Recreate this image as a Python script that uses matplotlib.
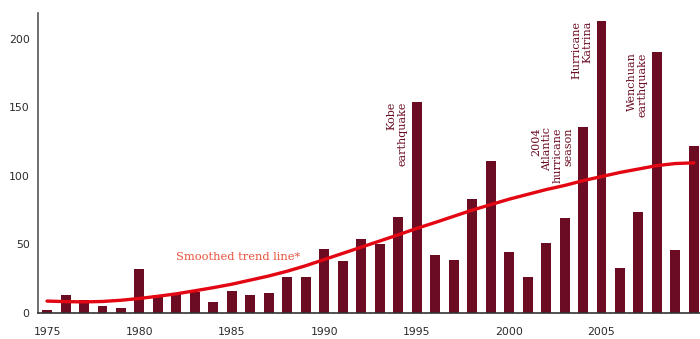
import matplotlib
matplotlib.use("Agg")
import matplotlib.pyplot as plt

years = list(range(1975, 2011))
losses = [2, 13, 9.5, 5, 4, 32, 13, 13.5, 15, 8, 16, 13, 14.5, 26, 26, 47, 38, 54, 50, 70,
          154, 42, 38.5, 83, 111, 44.5, 26, 51, 69, 135.5, 213, 33, 73.5, 190, 46, 121.5]
trend = [8.7, 8.3, 8.1, 8.4, 9.3, 10.6, 12.2, 14.0, 16.2, 18.5, 21.0, 24.0, 27.0, 30.5, 34.5,
         39.0, 43.5, 48.0, 52.5, 57.0, 61.7, 66.0, 70.5, 75.0, 79.0, 83.0, 86.5, 90.0, 93.0,
         96.5, 99.5, 102.5, 105.0, 107.5, 109.0, 109.5]
xticks = [1975, 1980, 1985, 1990, 1995, 2000, 2005]
yticks = [0, 50, 100, 150, 200]
annot_years = [1995, 2004, 2005, 2008]
annot_texts = ["Kobe\nearthquake", "2004\nAtlantic\nhurricane\nseason",
               "Hurricane\nKatrina", "Wenchuan\nearthquake"]
trend_label = "Smoothed trend line*"

BAR = "#6b0c22"
RED = "#e30613"

fig = plt.figure(figsize=(7.0, 3.39), dpi=100)
ax = fig.add_axes([38/700, 26/339, 1 - 38/700, 300.3/339])

width = 0.54
ax.bar(years, losses, width=width, color=BAR, zorder=2)
ax.plot(years, trend, color=RED, lw=2.4, solid_capstyle="round", zorder=3)

ax.set_xlim(1974.51, 2010.33)
ax.set_ylim(0, 219)
ax.set_xticks(xticks)
ax.set_yticks(yticks)
ax.tick_params(axis="both", length=0, labelsize=7.8, colors="#2b2b2b")
ax.tick_params(axis="x", pad=10)
ax.tick_params(axis="y", pad=6)
for lab in ax.get_xticklabels() + ax.get_yticklabels():
    lab.set_family("DejaVu Sans")

for s in ["top", "right"]:
    ax.spines[s].set_visible(False)
ax.spines["left"].set_color("#555555")
ax.spines["left"].set_linewidth(1.2)
ax.spines["bottom"].set_color("#333333")
ax.spines["bottom"].set_linewidth(1.2)

for yr, txt in zip(annot_years, annot_texts):
    val = losses[years.index(yr)]
    ax.annotate(txt, xy=(yr - width / 2, val), xytext=(-3, 0),
                textcoords="offset points", rotation=90, ha="right", va="top",
                multialignment="right", fontsize=8, family="DejaVu Serif",
                color=BAR, linespacing=1.1, zorder=4)

ax.text(1981.95, 40.5, trend_label, fontsize=8.2, family="DejaVu Serif",
        color="#e8503a", ha="left", va="center", zorder=4)

fig.savefig("out.png", dpi=100)
